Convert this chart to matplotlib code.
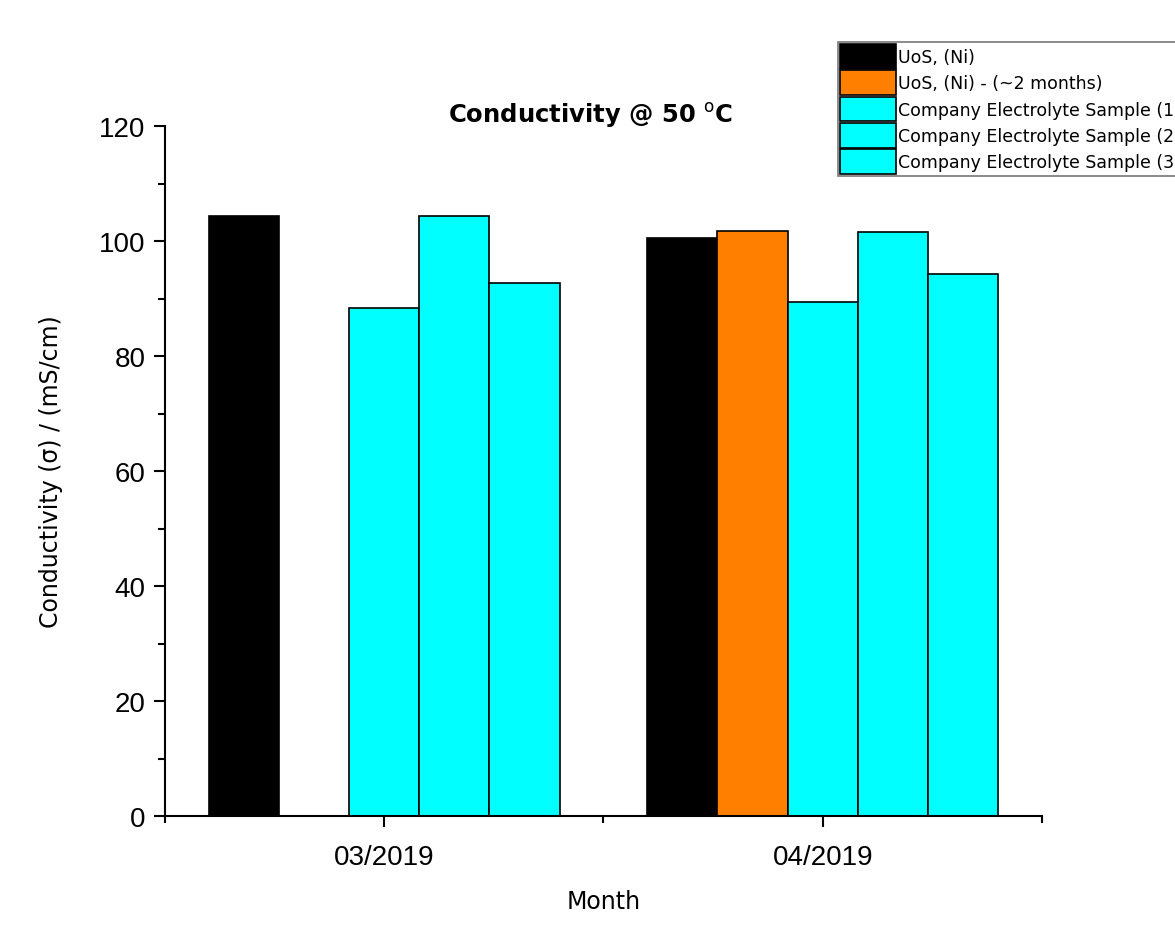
import numpy as np
import matplotlib.pyplot as plt
from matplotlib.ticker import MultipleLocator, FixedLocator

months = ["03/2019", "04/2019"]
series = ["UoS, (Ni)", "UoS, (Ni) - (~2 months)",
          "Company Electrolyte Sample (1)", "Company Electrolyte Sample (2)",
          "Company Electrolyte Sample (3)"]
uos_ni = [104.3, 100.5]
uos_ni_2m = [np.nan, 101.7]
sample1 = [88.3, 89.4]
sample2 = [104.3, 101.6]
sample3 = [92.7, 94.3]
colors = ["#000000", "#ff7f00", "#00ffff", "#00ffff", "#00ffff"]

values = [uos_ni, uos_ni_2m, sample1, sample2, sample3]

fig = plt.figure(figsize=(11.75, 9.28), dpi=100)
ax = fig.add_axes([0.1404, 0.1196, 0.7464, 0.7435])

x = np.arange(1, len(months) + 1)
w = 0.16
for i, (vals, lab, c) in enumerate(zip(values, series, colors)):
    ax.bar(x + (i - 2) * w, vals, width=w, color=c, edgecolor="black",
           linewidth=1.2, label=lab)

ax.set_xlim(0.5, 2.5)
ax.set_ylim(0, 120)
ax.set_xticks(x)
ax.set_xticklabels(months)
ax.xaxis.set_minor_locator(FixedLocator([0.5, 1.5, 2.5]))
ax.yaxis.set_major_locator(MultipleLocator(20))
ax.yaxis.set_minor_locator(MultipleLocator(10))
ax.spines["top"].set_visible(False)
ax.spines["right"].set_visible(False)
for s in ["left", "bottom"]:
    ax.spines[s].set_linewidth(1.5)
ax.tick_params(which="major", direction="out", length=8, width=1.5,
               labelsize=20, labelfontfamily="Liberation Sans", pad=6)
ax.tick_params(which="minor", direction="out", length=5, width=1.5)
ax.tick_params(axis="x", which="major", pad=12)

ax.set_ylabel("Conductivity (σ) / (mS/cm)", fontsize=17, labelpad=26)
ax.set_xlabel("Month", fontsize=17, labelpad=14)

fig.text(591 / 1175, 1 - 116 / 928, "Conductivity @ 50 $^{\\mathrm{o}}$C",
         ha="center", va="center", fontsize=17.5, fontweight="bold")

# legend runs past the right edge, as in the source figure
leg = fig.legend(loc="upper left", bbox_to_anchor=(838 / 1175, 1 - 43 / 928),
                 prop={"size": 12.5}, frameon=True, fancybox=False,
                 borderpad=0.12, handlelength=3.2, handleheight=1.8,
                 handletextpad=0.15, labelspacing=0.1, borderaxespad=0)
leg.get_frame().set_edgecolor("#555555")
leg.get_frame().set_linewidth(1.2)

fig.savefig("out.png", dpi=100)
